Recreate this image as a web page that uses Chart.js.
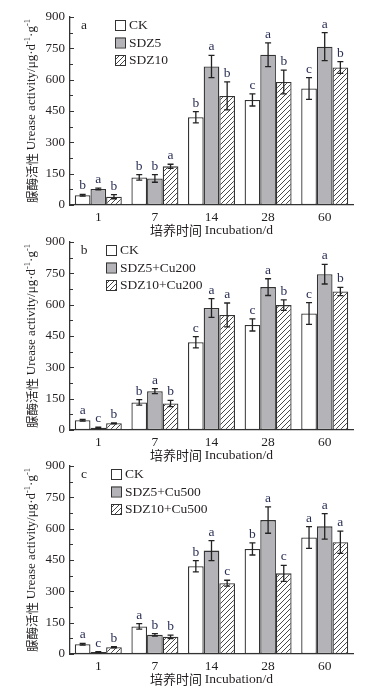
<!DOCTYPE html>
<html><head><meta charset="utf-8">
<script src="https://cdn.jsdelivr.net/npm/chart.js@4.4.0/dist/chart.umd.min.js"></script>
<style>
html,body{margin:0;padding:0;background:#fff;}
#wrap{position:relative;width:386px;height:689px;overflow:hidden;background:#fff;}
.pan{position:absolute;left:0;width:386px;height:240px;}
canvas{display:block;}
</style></head><body>
<div id="wrap">
<div class="pan" style="top:0"><canvas id="c1" width="386" height="240"></canvas></div>
<div class="pan" style="top:225px"><canvas id="c2" width="386" height="240"></canvas></div>
<div class="pan" style="top:449px"><canvas id="c3" width="386" height="240"></canvas></div>
</div>
<script>
// ---------- data ----------
const days = ['1', '7', '14', '28', '60'];
const yTickValues = [0, 150, 300, 450, 600, 750, 900];

const ckValues = [47, 132, 420, 503, 558];
const ckErrors = [4, 13, 27, 29, 52];

// panel a
const panelALabels = ['CK', 'SDZ5', 'SDZ10'];
const aSdz5Values = [77, 127, 663, 719, 758];
const aSdz5Errors = [4, 18, 53, 57, 67];
const aSdz10Values = [40, 185, 522, 589, 658];
const aSdz10Errors = [10, 10, 67, 57, 28];
const aLettersCK = ['b', 'b', 'b', 'c', 'c'];
const aLettersSdz5 = ['a', 'b', 'a', 'a', 'a'];
const aLettersSdz10 = ['b', 'a', 'b', 'b', 'b'];

// panel b
const panelBLabels = ['CK', 'SDZ5+Cu200', 'SDZ10+Cu200'];
const bSdz5Values = [11, 186, 584, 684, 746];
const bSdz5Errors = [3, 12, 45, 40, 47];
const bSdz10Values = [32, 127, 551, 598, 663];
const bSdz10Errors = [2, 15, 57, 25, 20];
const bLettersCK = ['a', 'b', 'c', 'c', 'c'];
const bLettersSdz5 = ['c', 'a', 'a', 'a', 'a'];
const bLettersSdz10 = ['b', 'b', 'a', 'b', 'b'];

// panel c
const panelCLabels = ['CK', 'SDZ5+Cu500', 'SDZ10+Cu500'];
const cSdz5Values = [9, 92, 495, 641, 611];
const cSdz5Errors = [2, 6, 48, 63, 61];
const cSdz10Values = [32, 82, 339, 386, 535];
const cSdz10Errors = [3, 8, 14, 38, 53];
const cLettersCK = ['a', 'a', 'b', 'b', 'a'];
const cLettersSdz5 = ['c', 'b', 'a', 'a', 'a'];
const cLettersSdz10 = ['b', 'b', 'c', 'c', 'a'];

const yTitle = ['脲酶活性 ', 'Urease activity/μg·d', '-1', '·g', '-1'];
const xTitle = ['培养时间 ', 'Incubation/d'];

// ---------- styles ----------
const SERIF = '"Liberation Serif", "Times New Roman", serif';
const CJK = '"Noto Sans CJK SC", sans-serif';
const INK = '#231f20';
const LETTER = '#2a2f55';
const GRAY = '#b4b4b8';
const EDGE = '#333333';

function hatchPattern(ctx) {
  const c = document.createElement('canvas');
  c.width = 5; c.height = 5;
  const g = c.getContext('2d');
  g.fillStyle = '#fff'; g.fillRect(0, 0, 5, 5);
  g.strokeStyle = '#333'; g.lineWidth = 0.9;
  g.beginPath();
  g.moveTo(0, 5); g.lineTo(5, 0);
  g.moveTo(-1, 1); g.lineTo(1, -1);
  g.moveTo(4, 6); g.lineTo(6, 4);
  g.stroke();
  return ctx.createPattern(c, 'repeat');
}

function drawMixed(ctx, pieces, cx, cy) {
  let total = 0;
  pieces.forEach(p => { ctx.font = p.font; p.w = ctx.measureText(p.t).width; total += p.w; });
  let x = cx - total / 2;
  ctx.textAlign = 'left'; ctx.textBaseline = 'middle';
  pieces.forEach(p => {
    ctx.font = p.font;
    ctx.fillText(p.t, x, cy + (p.sup ? -4 : 0));
    x += p.w;
  });
}

const panelPlugin = {
  id: 'panelPlugin',
  afterDatasetsDraw(chart, args, opts) {
    const ctx = chart.ctx;
    const ys = chart.scales.y;
    chart.data.datasets.forEach((ds, i) => {
      const meta = chart.getDatasetMeta(i);
      meta.data.forEach((bar, j) => {
        const v = ds.data[j], e = ds.errors[j];
        const yt = ys.getPixelForValue(v + e), yb = ys.getPixelForValue(Math.max(v - e, 0));
        ctx.save();
        ctx.strokeStyle = '#222'; ctx.lineWidth = 1.3;
        ctx.beginPath();
        ctx.moveTo(bar.x, yt); ctx.lineTo(bar.x, yb);
        ctx.moveTo(bar.x - 3, yt); ctx.lineTo(bar.x + 3, yt);
        ctx.moveTo(bar.x - 3, yb); ctx.lineTo(bar.x + 3, yb);
        ctx.stroke();
        ctx.fillStyle = LETTER;
        ctx.font = '13.5px ' + SERIF;
        ctx.textAlign = 'center'; ctx.textBaseline = 'alphabetic';
        ctx.fillText(ds.letters[j], bar.x, yt - 5);
        ctx.restore();
      });
    });
  },
  afterDraw(chart, args, opts) {
    const ctx = chart.ctx;
    const ys = chart.scales.y;
    const area = chart.chartArea;
    ctx.save();
    ctx.strokeStyle = '#333'; ctx.lineWidth = 1;
    ctx.beginPath();
    for (let v = 0; v <= 900; v += 75) {
      const py = Math.round(ys.getPixelForValue(v)) + 0.5;
      const len = (v % 150 === 0) ? 4 : 3;
      ctx.moveTo(area.left, py); ctx.lineTo(area.left + len, py);
    }
    ctx.stroke();
    ctx.fillStyle = INK;
    ctx.font = '13.5px ' + SERIF;
    ctx.textAlign = 'center'; ctx.textBaseline = 'middle';
    ctx.fillText(opts.tag, 84, 25);
    const lx = opts.legendX;
    const rows = [25, 42.5, 60];
    chart.data.datasets.forEach((ds, i) => {
      const cy = rows[i];
      ctx.fillStyle = ds.backgroundColor;
      ctx.fillRect(lx, cy - 5, 10, 10);
      ctx.strokeStyle = '#333'; ctx.lineWidth = 1;
      ctx.strokeRect(lx + 0.5, cy - 4.5, 10, 10);
      ctx.fillStyle = INK;
      ctx.font = '13.5px ' + SERIF;
      ctx.textAlign = 'left'; ctx.textBaseline = 'middle';
      ctx.fillText(ds.label, lx + 14, cy + 0.5);
    });
    ctx.fillStyle = INK;
    drawMixed(ctx, [
      {t: xTitle[0], font: '13px ' + CJK},
      {t: xTitle[1], font: '13.5px ' + SERIF}
    ], (area.left + area.right) / 2, 230);
    ctx.translate(32, (area.top + area.bottom) / 2);
    ctx.rotate(-Math.PI / 2);
    drawMixed(ctx, [
      {t: yTitle[0], font: '12.5px ' + CJK},
      {t: yTitle[1], font: '13px ' + SERIF},
      {t: yTitle[2], font: '8.5px ' + SERIF, sup: true},
      {t: yTitle[3], font: '13px ' + SERIF},
      {t: yTitle[4], font: '8.5px ' + SERIF, sup: true}
    ], 0, 0);
    ctx.restore();
  }
};

function makePanel(id, tag, legendX, labels, s5v, s5e, s10v, s10e, lCK, l5, l10) {
  const canvas = document.getElementById(id);
  const ctx = canvas.getContext('2d');
  const hatch = hatchPattern(ctx);
  new Chart(ctx, {
    type: 'bar',
    data: {
      labels: days,
      datasets: [
        {label: labels[0], data: ckValues, errors: ckErrors, letters: lCK,
         backgroundColor: '#ffffff', borderColor: EDGE, borderWidth: 1.3, borderSkipped: false},
        {label: labels[1], data: s5v, errors: s5e, letters: l5,
         backgroundColor: GRAY, borderColor: EDGE, borderWidth: 1.3, borderSkipped: false},
        {label: labels[2], data: s10v, errors: s10e, letters: l10,
         backgroundColor: hatch, borderColor: EDGE, borderWidth: 1.3, borderSkipped: false}
      ]
    },
    options: {
      responsive: false,
      animation: false,
      datasets: {bar: {categoryPercentage: 0.83, barPercentage: 1.0}},
      layout: {padding: {left: 0, right: 33, top: 17, bottom: 0}},
      plugins: {
        legend: {display: false},
        tooltip: {enabled: false},
        panelPlugin: {tag: tag, legendX: legendX}
      },
      scales: {
        x: {
          grid: {display: false, drawTicks: false},
          border: {display: true, color: '#333', width: 1.3},
          ticks: {font: {family: SERIF, size: 13.5}, color: INK, padding: 4},
          afterFit(s) { s.height = 35; }
        },
        y: {
          min: 0, max: 900,
          grid: {display: false, drawTicks: false},
          border: {display: true, color: '#333', width: 1.3},
          afterBuildTicks(s) {
            s.ticks = [];
            for (let v = 0; v <= 900; v += 75) s.ticks.push({value: v});
          },
          ticks: {
            autoSkip: false,
            callback: v => yTickValues.includes(v) ? String(v) : '',
            font: {family: SERIF, size: 13}, color: INK, padding: 5
          },
          afterFit(s) { s.width = 70; }
        }
      }
    },
    plugins: [panelPlugin]
  });
}

makePanel('c1', 'a', 115, panelALabels, aSdz5Values, aSdz5Errors, aSdz10Values, aSdz10Errors,
  aLettersCK, aLettersSdz5, aLettersSdz10);
makePanel('c2', 'b', 106, panelBLabels, bSdz5Values, bSdz5Errors, bSdz10Values, bSdz10Errors,
  bLettersCK, bLettersSdz5, bLettersSdz10);
makePanel('c3', 'c', 111, panelCLabels, cSdz5Values, cSdz5Errors, cSdz10Values, cSdz10Errors,
  cLettersCK, cLettersSdz5, cLettersSdz10);
</script>
</body></html>
